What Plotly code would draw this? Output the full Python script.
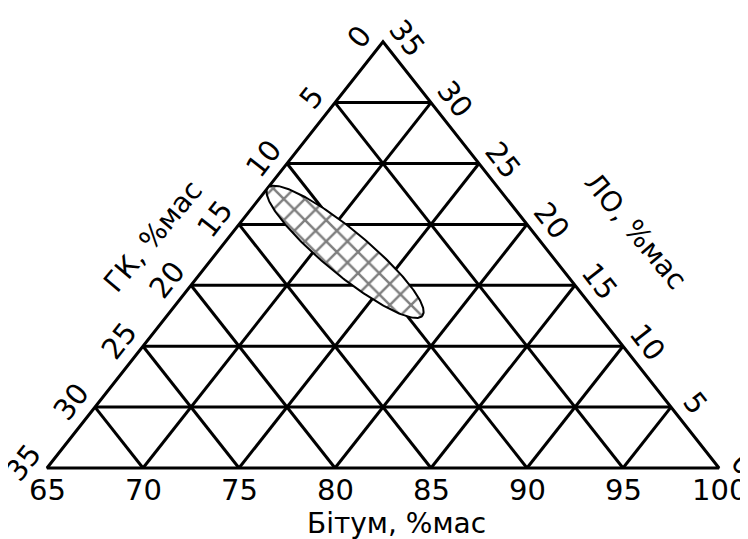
import numpy as np
import plotly.graph_objects as go

# ---------------- data ----------------
BITUMEN_TICKS = [65, 70, 75, 80, 85, 90, 95, 100]   # bottom side
GK_TICKS = [35, 30, 25, 20, 15, 10, 5, 0]           # left side, bottom -> top
LO_TICKS = [0, 5, 10, 15, 20, 25, 30, 35]           # right side, bottom -> top
GRID_STEPS = [5, 10, 15, 20, 25, 30]
TITLE_BITUMEN = "Бітум, %мас"
TITLE_GK = "ГК, %мас"
TITLE_LO = "ЛО, %мас"
# ellipse region: tips given as (Bitumen %, ЛО %), ГК = 100 - Bitumen - ЛО
ELLIPSE_TIP_A = (65.0, 23.0)
ELLIPSE_TIP_B = (78.3, 12.5)
ELLIPSE_WIDTH_RATIO = 0.22

B_MIN = 65
TOTAL = 100
SPAN = TOTAL - B_MIN  # 35

# ---------------- layout constants ----------------
W, H = 740, 531
X_RANGE = [62.969, 101.51]
Y_RANGE = [-5.829, 37.767]
PX_X = W / (X_RANGE[1] - X_RANGE[0])
PX_Y = H / (Y_RANGE[1] - Y_RANGE[0])
FONT = dict(family="DejaVu Sans", size=29, color="black")
TITLE_FONT = dict(family="DejaVu Sans", size=28, color="black")


def to_xy(b, l):
    """(Bitumen, ЛО) -> cartesian plot coords."""
    return b + l / 2.0, l


# ---------------- grid lines ----------------
xs, ys = [], []


def seg(p, q):
    xs.extend([p[0], q[0], None])
    ys.extend([p[1], q[1], None])


for v in GRID_STEPS:
    # constant ЛО
    seg(to_xy(B_MIN, v), to_xy(TOTAL - v, v))
    # constant Bitumen
    b = B_MIN + v
    seg(to_xy(b, 0), to_xy(b, TOTAL - b))
    # constant ГК
    g = v
    seg(to_xy(TOTAL - g, 0), to_xy(B_MIN, SPAN - g))

# triangle border (closed)
tri = [to_xy(B_MIN, 0), to_xy(TOTAL, 0), to_xy(B_MIN, SPAN), to_xy(B_MIN, 0), to_xy(TOTAL, 0)]
bx = [p[0] for p in tri]
by = [p[1] for p in tri]

fig = go.Figure()
fig.add_trace(go.Scatter(x=xs, y=ys, mode="lines",
                         line=dict(color="black", width=3),
                         hoverinfo="skip", showlegend=False))
fig.add_trace(go.Scatter(x=bx, y=by, mode="lines",
                         line=dict(color="black", width=3),
                         hoverinfo="skip", showlegend=False))

# ---------------- ellipse ----------------
ax_, ay_ = to_xy(*ELLIPSE_TIP_A)
bx_, by_ = to_xy(*ELLIPSE_TIP_B)
ua, va = ax_ * PX_X, ay_ * PX_Y
ub, vb = bx_ * PX_X, by_ * PX_Y
cu, cv = (ua + ub) / 2, (va + vb) / 2
a = np.hypot(ub - ua, vb - va) / 2
bb = a * ELLIPSE_WIDTH_RATIO
th = np.arctan2(vb - va, ub - ua)
t = np.linspace(0, 2 * np.pi, 240)
eu = cu + a * np.cos(th) * np.cos(t) - bb * np.sin(th) * np.sin(t)
ev = cv + a * np.sin(th) * np.cos(t) + bb * np.cos(th) * np.sin(t)
fig.add_trace(go.Scatter(x=eu / PX_X, y=ev / PX_Y, mode="lines", fill="toself",
                         fillcolor="white",
                         fillpattern=dict(shape="x", size=15, solidity=0.3,
                                          fgcolor="black", bgcolor="white"),
                         line=dict(color="black", width=2),
                         hoverinfo="skip", showlegend=False))

# ---------------- labels ----------------
ann = []
for b in BITUMEN_TICKS:
    x, y = to_xy(b, 0)
    ann.append(dict(x=x, y=y, text=str(b), yshift=-22, showarrow=False,
                    font=FONT, borderpad=0))

for g in GK_TICKS:
    x, y = to_xy(B_MIN, SPAN - g)
    ann.append(dict(x=x, y=y, text=str(g), xshift=-24, yshift=5, textangle=-52,
                    showarrow=False, font=FONT, borderpad=0))

for l in LO_TICKS:
    x, y = to_xy(TOTAL - l, l)
    ann.append(dict(x=x, y=y, text=str(l), xshift=24, yshift=4, textangle=52,
                    showarrow=False, font=FONT, borderpad=0))

# axis titles
x, y = to_xy((B_MIN + TOTAL) / 2, 0)
ann.append(dict(x=x, y=y, text=TITLE_BITUMEN, xshift=13, yshift=-55,
                showarrow=False, font=TITLE_FONT, borderpad=0))
x, y = to_xy(B_MIN, SPAN / 2)
ann.append(dict(x=x, y=y, text=TITLE_GK, xshift=-62, yshift=18, textangle=-50,
                showarrow=False, font=TITLE_FONT, borderpad=0))
x, y = to_xy(TOTAL - SPAN / 2, SPAN / 2)
ann.append(dict(x=x, y=y, text=TITLE_LO, xshift=84, yshift=24, textangle=50,
                showarrow=False, font=TITLE_FONT, borderpad=0))

fig.update_layout(
    width=W, height=H,
    margin=dict(l=0, r=0, t=0, b=0),
    paper_bgcolor="white", plot_bgcolor="white",
    xaxis=dict(range=X_RANGE, visible=False, fixedrange=True),
    yaxis=dict(range=Y_RANGE, visible=False, fixedrange=True),
    annotations=ann,
    showlegend=False,
)

fig.write_html("out.html")
